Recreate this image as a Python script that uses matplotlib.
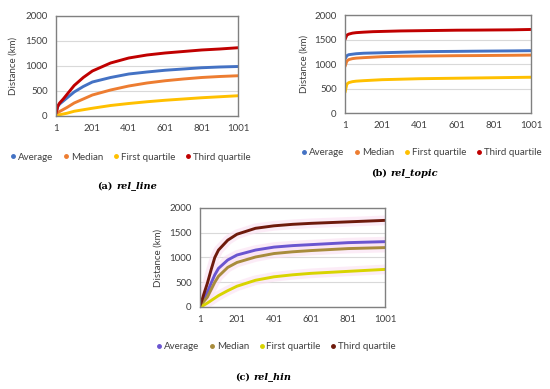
import matplotlib
matplotlib.use("Agg")
from matplotlib import pyplot as plt
from matplotlib.lines import Line2D

plt.rcParams['font.family'] = ['Lato', 'DejaVu Sans']

# x positions (iterations) of the read-off values
steps = [1, 11, 21, 41, 61, 81, 101, 151, 201, 301, 401, 501, 601, 701, 801, 901, 1001]

# (a) rel_line
line_avg = [50, 190, 240, 300, 360, 420, 480, 590, 680, 770, 840, 880, 915, 940, 965, 980, 990]
line_med = [20, 60, 90, 130, 170, 215, 260, 340, 420, 520, 600, 660, 705, 740, 770, 790, 805]
line_q1 = [0, 15, 25, 40, 55, 75, 95, 125, 155, 210, 250, 285, 315, 340, 365, 385, 405]
line_q3 = [50, 200, 260, 340, 430, 520, 610, 770, 900, 1060, 1160, 1220, 1260, 1290, 1320, 1340, 1365]

# (b) rel_topic
topic_avg = [1100, 1170, 1190, 1200, 1210, 1215, 1220, 1225, 1230, 1240, 1250, 1255, 1258, 1262, 1265, 1268, 1272]
topic_med = [950, 1060, 1090, 1110, 1120, 1125, 1130, 1140, 1150, 1158, 1162, 1166, 1170, 1172, 1175, 1178, 1182]
topic_q1 = [420, 590, 620, 640, 650, 655, 660, 670, 680, 690, 700, 705, 710, 715, 720, 725, 730]
topic_q3 = [1500, 1590, 1610, 1630, 1640, 1645, 1650, 1660, 1665, 1675, 1680, 1685, 1690, 1692, 1695, 1698, 1705]

# (c) rel_hin
hin_avg = [30, 100, 170, 300, 480, 650, 780, 950, 1050, 1150, 1210, 1240, 1260, 1280, 1300, 1310, 1320]
hin_med = [20, 60, 110, 200, 350, 500, 620, 800, 900, 1010, 1080, 1115, 1140, 1160, 1180, 1190, 1200]
hin_q1 = [0, 15, 35, 80, 130, 180, 230, 330, 420, 540, 610, 650, 680, 700, 720, 740, 760]
hin_q3 = [30, 130, 250, 480, 750, 1000, 1150, 1350, 1470, 1590, 1640, 1670, 1690, 1705, 1720, 1735, 1750]

names = ["Average", "Median", "First quartile", "Third quartile"]
colors_excel = ["#4472C4", "#ED7D31", "#FFC000", "#C00000"]
colors_hin = ["#6A55D0", "#A88C3C", "#D8D400", "#6E1A0C"]

fig = plt.figure(figsize=(5.5, 3.89), dpi=100)


def panel(rect, series, colors, leg_xy, ylab_x, cap_xy, tag, name, halo=None):
    ax = fig.add_axes(rect)
    if halo:
        # faint pink glow visible around the curves in the source image
        for vals in series:
            ax.plot(steps, vals, color=halo, lw=7, alpha=0.6, solid_capstyle="round")
    for vals, c in zip(series, colors):
        ax.plot(steps, vals, color=c, lw=2.1, solid_capstyle="round")
    ax.set_xlim(1, 1001)
    ax.set_ylim(0, 2000)
    ax.set_xticks([1, 201, 401, 601, 801, 1001])
    ax.set_yticks([0, 500, 1000, 1500, 2000])
    ax.tick_params(length=0, labelsize=7, pad=6, colors="#404040")
    ax.grid(axis="y", color="#D9D9D9", lw=0.8)
    ax.set_axisbelow(True)
    for s in ax.spines.values():
        s.set_color("#808080")
        s.set_linewidth(1.0)
    fig.text(ylab_x, rect[1] + rect[3] / 2, "Distance (km)", rotation=90,
             ha="center", va="center", fontsize=7, color="#404040")
    handles = [Line2D([], [], ls="none", marker="o", ms=2.5, color=c) for c in colors]
    fig.legend(handles, names, loc="center", bbox_to_anchor=leg_xy, ncol=4,
               frameon=False, fontsize=7, handletextpad=0.1, columnspacing=0.9,
               handlelength=0.8, labelcolor="#404040")
    fig.text(cap_xy[0], cap_xy[1], tag, ha="right", va="center", fontsize=7,
             family="DejaVu Serif", weight="bold")
    fig.text(cap_xy[0] + 0.006, cap_xy[1], name, ha="left", va="center", fontsize=7,
             family="DejaVu Serif", weight="bold", style="italic")
    return ax


panel([0.1018, 0.7018, 0.3309, 0.2571], [line_avg, line_med, line_q1, line_q3],
      colors_excel, (0.236, 0.596), 0.024, (0.205, 0.522), "(a)", "rel_line")
panel([0.6273, 0.7095, 0.3382, 0.2519], [topic_avg, topic_med, topic_q1, topic_q3],
      colors_excel, (0.765, 0.607), 0.553, (0.704, 0.555), "(b)", "rel_topic")
panel([0.3636, 0.2108, 0.3364, 0.2545], [hin_avg, hin_med, hin_q1, hin_q3],
      colors_hin, (0.501, 0.108), 0.287, (0.454, 0.031), "(c)", "rel_hin",
      halo="#FBE0F2")

fig.savefig("out.png", dpi=100)
